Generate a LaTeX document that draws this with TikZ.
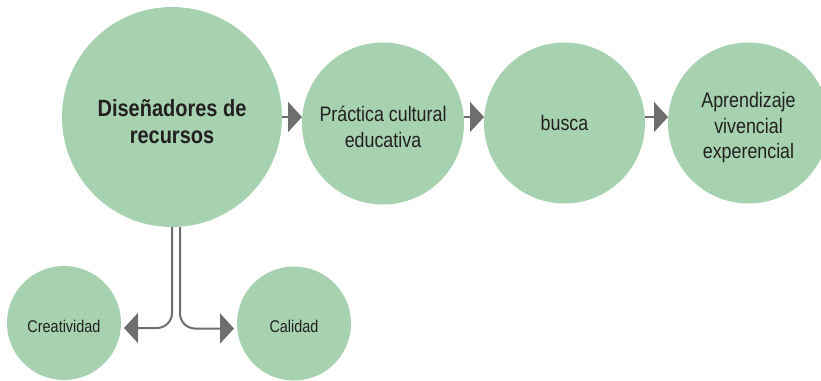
\documentclass[tikz,border=0pt]{standalone}
\usepackage{fontspec}
\setmainfont[FakeStretch=0.85]{Liberation Sans}
\usetikzlibrary{arrows.meta,calc}
\definecolor{circfill}{HTML}{A6D2B0}
\definecolor{arrgray}{HTML}{6E6E6E}
\definecolor{txtcol}{HTML}{231F20}
\begin{document}
\begin{tikzpicture}[x=1pt,y=-1pt,
  circ/.style={circle, fill=circfill, inner sep=0pt, outer sep=0pt},
  lbl/.style={text=txtcol, align=center, inner sep=0pt},
  bigtxt/.style={lbl, font=\fontsize{23.5}{27}\selectfont\bfseries},
  midtxt/.style={lbl, font=\fontsize{21}{25.5}\selectfont},
  smalltxt/.style={lbl, font=\fontsize{17}{20}\selectfont},
  conn/.style={draw=arrgray, line width=2pt, -{Triangle[length=14pt,width=30pt]}, fill=none}
]
\useasboundingbox (0,0) rectangle (821,380);
\node[circ, minimum size=220pt] (big) at (172,117) {};
\node[circ, minimum size=162pt] (prac) at (383,123.5) {};
\node[circ, minimum size=161pt] (busca) at (564.5,123) {};
\node[circ, minimum size=161pt] (apre) at (748.5,123) {};
\node[circ, minimum size=114pt] (cre) at (64,323) {};
\node[circ, minimum size=114pt] (cal) at (294,323.5) {};
\node[bigtxt] (bigt) at ($(big)+(0,5)$) {Diseñadores de\\recursos};
\node[midtxt] (pract) at ($(prac)+(0,3.5)$) {Práctica cultural\\educativa};
\node[midtxt] (buscat) at (busca) {busca};
\node[midtxt] (apret) at ($(apre)+(0,5)$) {Aprendizaje\\vivencial\\experencial};
\node[smalltxt] (cret) at ($(cre)+(0,3)$) {Creatividad};
\node[smalltxt] (calt) at ($(cal)+(0,3)$) {Calidad};
\draw[conn] (big.east) -- (big.east -| prac.west);
\draw[conn] (prac.east |- big.east) -- (big.east -| busca.west);
\draw[conn] (busca.east |- big.east) -- (big.east -| apre.west);
\draw[conn, rounded corners=15pt] (big.south) |- ($(cre.east)+(3,5)$);
\draw[conn, rounded corners=15pt] ($(big.south)+(8,0)$) |- ($(cal.west)+(-3,5)$);
\end{tikzpicture}
\end{document}
